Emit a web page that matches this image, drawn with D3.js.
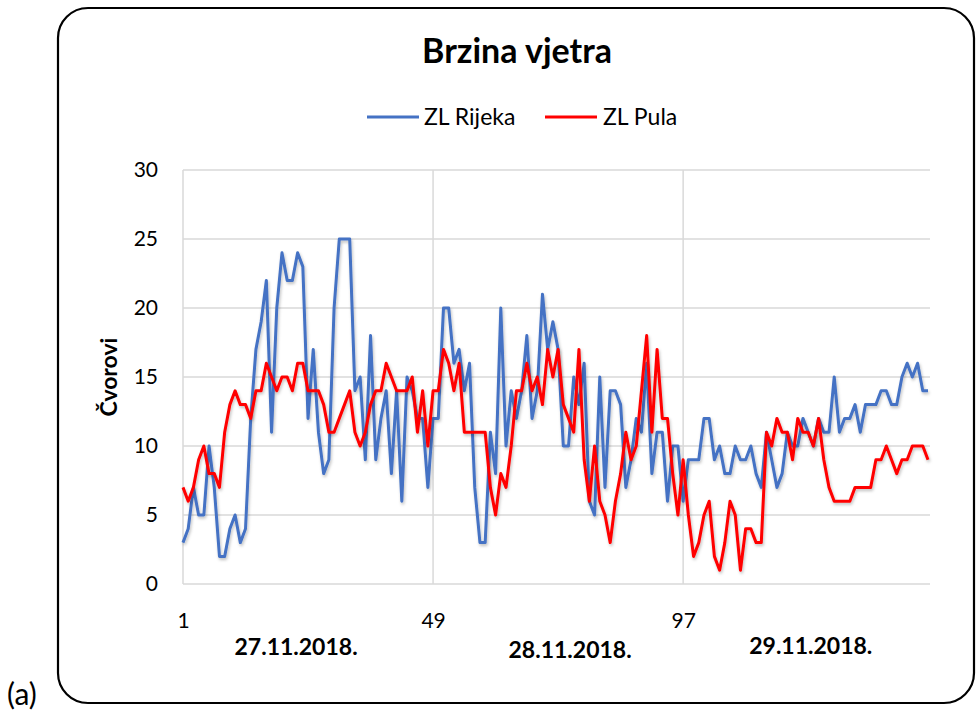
<!DOCTYPE html>
<html>
<head>
<meta charset="utf-8">
<script src="https://cdn.jsdelivr.net/npm/d3@7"></script>
<style>
  html, body { margin: 0; padding: 0; background: #fff; }
  svg { display: block; }
  text { font-family: Lato, "Open Sans", sans-serif; }
</style>
</head>
<body>
<svg id="chart" width="976" height="711"></svg>
<script>
// Wind speed (knots), half-hourly readings over three days
const seriesNames = ["ZL Rijeka", "ZL Pula"];
const seriesColors = ["#4472C4", "#FF0000"];

const rijeka = [
  3, 4, 7, 5, 5, 10, 7, 2, 2, 4, 5, 3, 4, 12, 17, 19, 22, 11, 20, 24, 22, 22, 24, 23,
  12, 17, 11, 8, 9, 20, 25, 25, 25, 14, 15, 9, 18, 9, 12, 14, 8, 14, 6, 15, 14, 12, 12, 7,
  12, 12, 20, 20, 16, 17, 14, 16, 7, 3, 3, 11, 8, 20, 10, 14, 12, 14, 18, 12, 14, 21, 17, 19,
  17, 10, 10, 15, 13, 16, 6, 5, 15, 7, 14, 14, 13, 7, 9, 12, 11, 16, 8, 11, 11, 6, 10, 10,
  6, 9, 9, 9, 12, 12, 9, 10, 8, 8, 10, 9, 9, 10, 8, 7, 11, 9, 7, 8, 11, 10, 10, 12,
  11, 10, 12, 11, 11, 15, 11, 12, 12, 13, 11, 13, 13, 13, 14, 14, 13, 13, 15, 16, 15, 16, 14, 14
];

const pula = [
  7, 6, 7, 9, 10, 8, 8, 7, 11, 13, 14, 13, 13, 12, 14, 14, 16, 15, 14, 15, 15, 14, 16, 16,
  14, 14, 14, 13, 11, 11, 12, 13, 14, 11, 10, 11, 13, 14, 14, 16, 15, 14, 14, 14, 15, 11, 14, 10,
  14, 14, 17, 16, 14, 16, 11, 11, 11, 11, 11, 7, 5, 8, 7, 10, 14, 14, 16, 14, 15, 13, 17, 15,
  17, 13, 12, 11, 17, 9, 6, 10, 6, 5, 3, 6, 8, 11, 9, 10, 14, 18, 11, 17, 12, 12, 8, 5,
  9, 5, 2, 3, 5, 6, 2, 1, 3, 6, 5, 1, 4, 4, 3, 3, 11, 10, 12, 11, 11, 9, 12, 11,
  11, 10, 12, 9, 7, 6, 6, 6, 6, 7, 7, 7, 7, 9, 9, 10, 9, 8, 9, 9, 10, 10, 10, 9
];

const xTicks = [1, 49, 97];
const yTicks = [0, 5, 10, 15, 20, 25, 30];
const dayLabels = ["27.11.2018.", "28.11.2018.", "29.11.2018."];
const dayLabelPos = [22.7, 75.3, 121.5];
const dayLabelBaseline = [655, 658, 654];

const svg = d3.select("#chart");

// Rounded frame
svg.append("rect")
  .attr("x", 58).attr("y", 8)
  .attr("width", 916).attr("height", 695)
  .attr("rx", 30).attr("ry", 30)
  .attr("fill", "none").attr("stroke", "#000").attr("stroke-width", 2.2);

svg.append("text")
  .attr("x", 7).attr("y", 705)
  .attr("font-size", 30).attr("fill", "#000")
  .text("(a)");

const x = d3.scaleLinear().domain([1, 144]).range([183, 928]);
const y = d3.scaleLinear().domain([0, 30]).range([584, 170]);
const plotLeft = 183, plotRight = 930;

// Horizontal grid
svg.append("g").selectAll("line").data(yTicks).join("line")
  .attr("x1", plotLeft).attr("x2", plotRight)
  .attr("y1", d => y(d)).attr("y2", d => y(d))
  .attr("stroke", "#d9d9d9").attr("stroke-width", 1.5);

// Vertical grid at day boundaries
svg.append("g").selectAll("line").data(xTicks).join("line")
  .attr("x1", d => x(d)).attr("x2", d => x(d))
  .attr("y1", y(30)).attr("y2", y(0))
  .attr("stroke", "#d9d9d9").attr("stroke-width", 1.5);

// Y axis labels
const yAxis = svg.append("g")
  .attr("transform", `translate(${plotLeft},0)`)
  .call(d3.axisLeft(y).tickValues(yTicks).tickSize(0).tickPadding(25));
yAxis.select(".domain").remove();
yAxis.selectAll("text")
  .attr("font-family", "Lato, 'Open Sans', sans-serif")
  .attr("font-size", 21).attr("fill", "#000");

// X axis labels
const xAxis = svg.append("g")
  .attr("transform", `translate(0,${y(0)})`)
  .call(d3.axisBottom(x).tickValues(xTicks).tickSize(0).tickPadding(0));
xAxis.select(".domain").remove();
xAxis.selectAll("text")
  .attr("dy", null).attr("y", 44)
  .attr("font-family", "Lato, 'Open Sans', sans-serif")
  .attr("font-size", 21).attr("fill", "#000");

// Day labels
svg.append("g").selectAll("text").data(dayLabels).join("text")
  .attr("x", (d, i) => x(dayLabelPos[i]))
  .attr("y", (d, i) => dayLabelBaseline[i])
  .attr("text-anchor", "middle")
  .attr("font-size", 23).attr("font-weight", "bold").attr("fill", "#000")
  .text(d => d);

// Y axis title
svg.append("text")
  .attr("transform", `translate(117,${y(15)}) rotate(-90)`)
  .attr("text-anchor", "middle")
  .attr("font-size", 23).attr("font-weight", "bold").attr("fill", "#000")
  .text("Čvorovi");

// Title
svg.append("text")
  .attr("x", 517).attr("y", 63)
  .attr("text-anchor", "middle")
  .attr("font-size", 34).attr("font-weight", "bold").attr("fill", "#000")
  .text("Brzina vjetra");

// Soft shadow under the lines
const defs = svg.append("defs");
const shadow = defs.append("filter").attr("id", "lineShadow")
  .attr("x", "-5%").attr("y", "-5%").attr("width", "110%").attr("height", "110%");
shadow.append("feDropShadow")
  .attr("dx", 1).attr("dy", 2).attr("stdDeviation", 1.5)
  .attr("flood-color", "#000").attr("flood-opacity", 0.25);

const line = d3.line().x((d, i) => x(i + 1)).y(d => y(d));
const series = [rijeka, pula];

svg.append("g").selectAll("path").data(series).join("path")
  .attr("d", d => line(d))
  .attr("fill", "none")
  .attr("stroke", (d, i) => seriesColors[i])
  .attr("stroke-width", 3)
  .attr("stroke-linejoin", "round")
  .attr("filter", "url(#lineShadow)");

// Legend
const legendItems = [
  { x1: 367, tx: 424 },
  { x1: 545, tx: 603 }
];
const legend = svg.append("g").selectAll("g").data(seriesNames).join("g");
legend.append("line")
  .attr("x1", (d, i) => legendItems[i].x1)
  .attr("x2", (d, i) => legendItems[i].x1 + 52)
  .attr("y1", 117).attr("y2", 117)
  .attr("stroke", (d, i) => seriesColors[i])
  .attr("stroke-width", 3);
legend.append("text")
  .attr("x", (d, i) => legendItems[i].tx)
  .attr("y", 125)
  .attr("font-size", 23).attr("fill", "#000")
  .text(d => d);
</script>
</body>
</html>
